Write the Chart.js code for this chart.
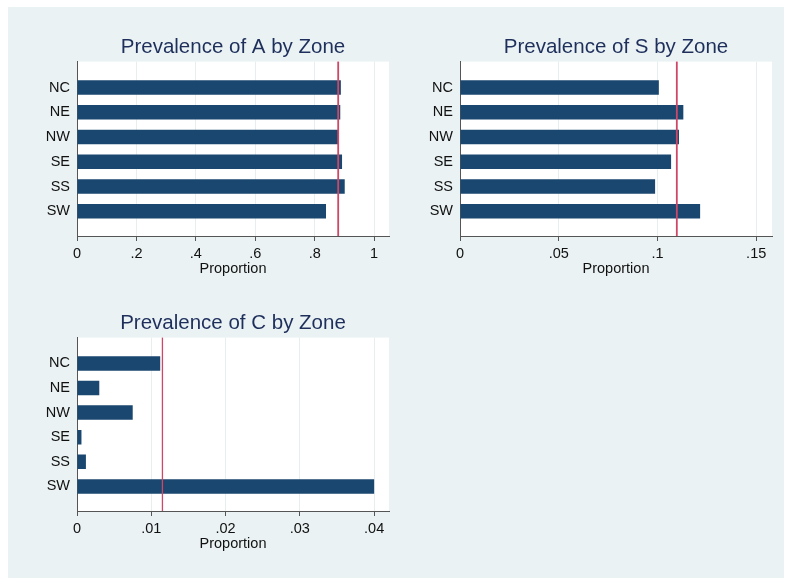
<!DOCTYPE html>
<html>
<head>
<meta charset="utf-8">
<script src="https://cdn.jsdelivr.net/npm/chart.js@4/dist/chart.umd.min.js"></script>
<style>
  body { margin: 0; background: #ffffff; }
  #wrap { position: relative; width: 785px; height: 580px; }
  #bg { position: absolute; left: 8px; top: 7px; width: 776px; height: 571px; background: #eaf2f3; }
  canvas { position: absolute; }
</style>
</head>
<body>
<div id="wrap">
  <div id="bg"></div>
  <canvas id="chartA" width="400" height="290" style="left:0px;top:0px"></canvas>
  <canvas id="chartS" width="395" height="290" style="left:390px;top:0px"></canvas>
  <canvas id="chartC" width="400" height="290" style="left:0px;top:290px"></canvas>
</div>
<script>
// data
const zones = ['NC', 'NE', 'NW', 'SE', 'SS', 'SW'];

const propA = [0.888, 0.886, 0.881, 0.892, 0.901, 0.838];
const propS = [0.1007, 0.1131, 0.1109, 0.1069, 0.0988, 0.1216];
const propC = [0.0112, 0.0030, 0.0075, 0.0006, 0.0012, 0.0400];

// overall prevalence (red line)
const meanA = 0.879;
const meanS = 0.1098;
const meanC = 0.0115;

const ticksA = [0, 0.2, 0.4, 0.6, 0.8, 1];
const ticksS = [0, 0.05, 0.1, 0.15];
const ticksC = [0, 0.01, 0.02, 0.03, 0.04];

const barColor = '#1a476f';
const lineColor = '#cf4767';
const FONT = "'Liberation Sans', Arial, sans-serif";

// white plot region
const plotBg = {
    id: 'plotBg',
    beforeDraw(chart) {
        const a = chart.chartArea;
        const ctx = chart.ctx;
        ctx.save();
        ctx.fillStyle = '#ffffff';
        ctx.fillRect(a.left, a.top, a.right - a.left, a.bottom - a.top);
        ctx.restore();
    }
};

// vertical reference line at the overall value
const refLine = {
    id: 'refLine',
    afterDatasetsDraw(chart, args, opts) {
        const a = chart.chartArea;
        const x = chart.scales.x.getPixelForValue(opts.value);
        const ctx = chart.ctx;
        ctx.save();
        ctx.strokeStyle = lineColor;
        ctx.lineWidth = opts.width;
        ctx.beginPath();
        ctx.moveTo(x, a.top);
        ctx.lineTo(x, a.bottom);
        ctx.stroke();
        ctx.restore();
    }
};

function fmt(v) {
    return String(Number(v.toFixed(4))).replace(/^0\./, '.');
}

function makeChart(id, title, values, mean, ticks, xmax, pad, lw) {
    const ctx = document.getElementById(id).getContext('2d');
    return new Chart(ctx, {
        type: 'bar',
        data: {
            datasets: [{
                data: values.map((v, i) => ({ x: v, y: i })),
                backgroundColor: barColor,
                borderWidth: 0,
                barPercentage: 0.59,
                categoryPercentage: 1
            }]
        },
        options: {
            indexAxis: 'y',
            responsive: false,
            animation: false,
            layout: { padding: pad },
            scales: {
                x: {
                    type: 'linear',
                    min: 0,
                    max: xmax,
                    afterBuildTicks: s => { s.ticks = ticks.map(v => ({ value: v })); },
                    afterFit: s => { s.height = 42; },
                    grid: { color: '#e6eef0', lineWidth: 1, drawTicks: true, tickLength: 5, tickColor: '#555555' },
                    border: { display: true, color: '#555555', width: 1 },
                    ticks: { font: { family: FONT, size: 14.5 }, color: '#111111', padding: 4, maxRotation: 0, callback: v => fmt(v) },
                    title: { display: true, text: 'Proportion', font: { family: FONT, size: 14.5 }, color: '#111111', padding: 0 }
                },
                y: {
                    type: 'linear',
                    reverse: true,
                    offset: false,
                    min: -1.05,
                    max: 6,
                    afterBuildTicks: s => { s.ticks = zones.map((z, i) => ({ value: i })); },
                    afterFit: s => { s.width = 40; },
                    grid: { display: false, drawTicks: false, tickLength: 0, offset: false },
                    border: { display: true, color: '#555555', width: 1 },
                    ticks: { font: { family: FONT, size: 14.5 }, color: '#111111', padding: 7, callback: v => zones[v] }
                }
            },
            plugins: {
                legend: { display: false },
                tooltip: { enabled: false },
                title: {
                    display: true,
                    text: title,
                    fullSize: false,
                    color: '#1e2f5c',
                    font: { family: FONT, size: 20.5, weight: 'normal' },
                    padding: { top: 0, bottom: 2 }
                },
                refLine: { value: mean, width: lw }
            }
        },
        plugins: [plotBg, refLine]
    });
}

makeChart('chartA', 'Prevalence of A by Zone', propA, meanA, ticksA, 1.05,
    { left: 37, right: 11, top: 35, bottom: 12 }, 1.8);
makeChart('chartS', 'Prevalence of S by Zone', propS, meanS, ticksS, 0.158,
    { left: 30, right: 13, top: 35, bottom: 12 }, 1.8);
makeChart('chartC', 'Prevalence of C by Zone', propC, meanC, ticksC, 0.042,
    { left: 37, right: 11, top: 21, bottom: 27 }, 1.3);
</script>
</body>
</html>
